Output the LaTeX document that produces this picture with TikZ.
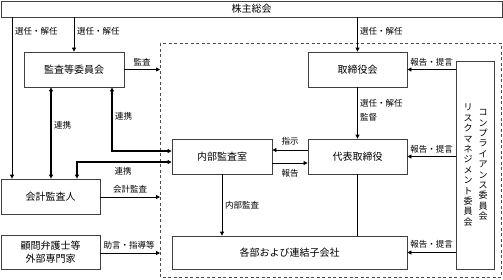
\documentclass[tikz,border=0pt]{standalone}
\usepackage{fontspec}
\setmainfont{Noto Sans CJK JP}
\usetikzlibrary{arrows.meta}
\begin{document}
\begin{tikzpicture}[x=1pt,y=-1pt,
  box/.style={draw=black!75, line width=0.8pt, fill=white, inner sep=0pt, font=\fontsize{10}{12}\selectfont},
  lab/.style={font=\fontsize{8.5}{10}\selectfont, inner sep=1pt},
  tip/.tip={Triangle[length=4pt,width=4pt]},
  arr/.style={-tip, line width=0.8pt},
  darr/.style={tip-tip, line width=1.3pt},
  plain/.style={line width=0.8pt}]
\useasboundingbox (0,0) rectangle (503,279);
% dashed frame
\draw[dashed, black!70, line width=0.7pt, dash pattern=on 3pt off 2.5pt] (160,43) rectangle (501,277);
% boxes
\node[box, minimum width=501pt, minimum height=16pt] (kabu) at (251.5,9) {株主総会};
\node[box, minimum width=100pt, minimum height=35pt] (kansa) at (74,69.5) {監査等委員会};
\node[box, minimum width=99pt, minimum height=35pt] (tori) at (357.5,69.5) {取締役会};
\node[box, minimum width=100pt, minimum height=35pt] (naibu) at (222,156.5) {内部監査室};
\node[box, minimum width=99pt, minimum height=35pt] (daihyo) at (357.5,156.5) {代表取締役};
\node[box, minimum width=99pt, minimum height=35pt] (kaikei) at (50.5,196.5) {会計監査人};
\node[box, minimum width=99pt, minimum height=34pt, align=center, font=\fontsize{10}{12.5}\selectfont] (komon) at (50.5,252) {顧問弁護士等\\外部専門家};
\node[box, minimum width=235pt, minimum height=33pt] (kakubu) at (289.5,252.5) {各部および連結子会社};
\node[box, minimum width=38pt, minimum height=208pt] (comp) at (475,165) {};
\node[align=center, inner sep=0pt, font=\fontsize{9}{10.4}\selectfont] (comptxt) at (483,165) {コ\\ン\\プ\\ラ\\イ\\ア\\ン\\ス\\委\\員\\会};
\node[align=center, inner sep=0pt, font=\fontsize{9}{10.4}\selectfont] (risktxt) at (468,165) {リ\\ス\\ク\\マ\\ネ\\ジ\\メ\\ン\\ト\\委\\員\\会};
% frame anchor coordinates
\coordinate (fA) at (160,69.5);
\coordinate (fB) at (160,197);
\coordinate (fC) at (160,253);
% from shareholders
\draw[arr] (kabu.south -| 12,0) -- (kaikei.north -| 12,0);
\draw[arr] (kabu.south -| kansa) -- (kansa.north);
\draw[arr] (kabu.south -| tori) -- (tori.north);
\node[lab, anchor=west] (l1) at (14,31) {選任・解任};
\node[lab, anchor=west] (l2) at (76,31) {選任・解任};
\node[lab, anchor=west] (l3) at (359,31) {選任・解任};
% audit
\draw[arr] (kansa.east) -- (fA);
\node[lab] (l4) at (142,62) {監査};
% renkei
\draw[darr] (kansa.south -| 51,0) -- (kaikei.north -| 51,0);
\node[lab, anchor=west] (l5) at (53,125) {連携};
\draw[darr] (kansa.south -| 112,0) |- (naibu.west |- 0,151);
\node[lab, anchor=west] (l6) at (114,116) {連携};
\draw[darr] (kaikei.north -| 77,0) |- (naibu.west |- 0,162);
\node[lab] (l7) at (123,171) {連携};
% accounting audit / advice
\draw[arr] (kaikei.east |- fB) -- (fB);
\node[lab] (l8) at (130,189) {会計監査};
\draw[arr] (komon.east |- fC) -- (fC);
\node[lab] (l9) at (129,245) {助言・指導等};
% board -> representative
\draw[arr] (tori.south) -- (daihyo.north);
\node[lab, anchor=west, align=left, font=\fontsize{8.5}{14}\selectfont] (l10) at (359,110) {選任・解任\\監督};
% instructions / reports
\draw[arr] (daihyo.west |- 0,150) -- (naibu.east |- 0,150);
\node[lab] (l11) at (290,141) {指示};
\draw[arr] (naibu.east |- 0,163) -- (daihyo.west |- 0,163);
\node[lab] (l12) at (290,173) {報告};
% internal audit
\draw[arr] (naibu.south) -- (kakubu.north -| naibu);
\node[lab, anchor=west] (l13) at (224,205) {内部監査};
\draw[plain] (daihyo.south) -- (kakubu.north -| daihyo);
% compliance reports
\draw[arr] (comp.west |- tori) -- (tori.east);
\draw[arr] (comp.west |- daihyo) -- (daihyo.east);
\draw[arr] (comp.west |- kakubu) -- (kakubu.east);
\node[lab] (l14) at (431.5,62) {報告・提言};
\node[lab] (l15) at (431.5,149) {報告・提言};
\node[lab] (l16) at (431.5,244) {報告・提言};
\end{tikzpicture}
\end{document}
